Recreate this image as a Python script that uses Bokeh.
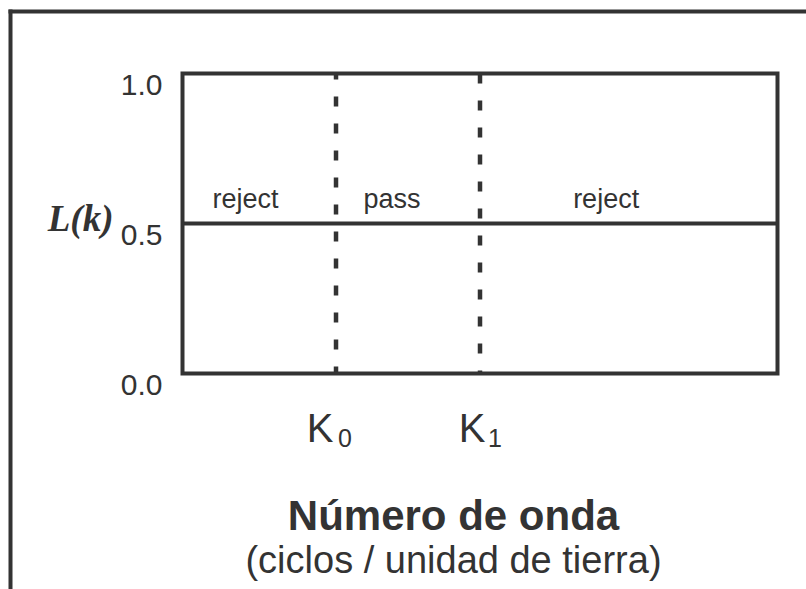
from bokeh.plotting import figure
from bokeh.models import Range1d
from bokeh.core.properties import value
from bokeh.embed import file_html
from bokeh.resources import INLINE

# --- data -------------------------------------------------------------
K_DOMAIN = [0.0, 10.0]            # wavenumber span of the response box
K_CUTOFFS = [2.58, 5.0]           # K0, K1
K_NAMES = ["K", "K"]
K_SUBS = ["0", "1"]
L_RANGE = [0.0, 1.0]
L_LEVEL = 0.5                     # response level L(k)
Y_TICKS = [0.0, 0.5, 1.0]
Y_TICK_LABELS = ["0.0", "0.5", "1.0"]
BAND_NAMES = ["reject", "pass", "reject"]
BAND_LABEL_K = [1.06, 3.52, 7.12]

# --- layout (pixels) --------------------------------------------------
W, H = 806, 589
BOX_L, BOX_T, BOX_R, BOX_B = 182, 73, 777, 373
INK = "#333333"
SANS = "Liberation Sans"

sx = (BOX_R - BOX_L) / (K_DOMAIN[1] - K_DOMAIN[0])
sy = (BOX_B - BOX_T) / (L_RANGE[1] - L_RANGE[0])


def px_x(px):
    return K_DOMAIN[0] + (px - BOX_L) / sx


def px_y(py):
    return L_RANGE[0] + (BOX_B - py) / sy


p = figure(
    width=W, height=H,
    x_range=Range1d(px_x(0), px_x(W)),
    y_range=Range1d(px_y(H), px_y(0)),
    output_backend="svg", toolbar_location=None,
    min_border=0, outline_line_color=None,
    background_fill_color="white", border_fill_color="white",
)
p.axis.visible = False
p.grid.visible = False

# outer frame (top and left edges)
p.segment(x0=[px_x(8), px_x(10)], y0=[px_y(11), px_y(9)],
          x1=[px_x(W + 5), px_x(10)], y1=[px_y(11), px_y(H + 5)],
          line_color=INK, line_width=4)

# cut-off wavenumbers
for k, off in zip(K_CUTOFFS, [4, 0]):
    p.segment(x0=[k], y0=[L_RANGE[1]], x1=[k], y1=[L_RANGE[0]],
              line_color=INK, line_width=4.5, line_dash="10 17",
              line_dash_offset=off, line_cap="butt")

# response level
p.line(x=K_DOMAIN, y=[L_LEVEL, L_LEVEL], line_color=INK, line_width=4)

# response box
p.quad(left=[K_DOMAIN[0]], right=[K_DOMAIN[1]],
       bottom=[L_RANGE[0]], top=[L_RANGE[1]],
       fill_color=None, line_color=INK, line_width=4, line_join="miter")

# y tick labels
p.text(x=[K_DOMAIN[0]] * len(Y_TICKS), y=Y_TICKS, text=Y_TICK_LABELS,
       x_offset=-20, y_offset=11, text_align="right", text_baseline="middle",
       text_font=value(SANS), text_font_size="30px", text_color=INK)

# axis name
p.text(x=[K_DOMAIN[0]], y=[L_LEVEL], text=["L(k)"],
       x_offset=-69, y_offset=-5, text_align="right", text_baseline="middle",
       text_font=value("Liberation Serif"), text_font_style="bold italic",
       text_font_size="37px", text_color=INK)

# band names
p.text(x=BAND_LABEL_K, y=[L_LEVEL] * len(BAND_NAMES), text=BAND_NAMES,
       y_offset=-25, text_align="center", text_baseline="alphabetic",
       text_font=value(SANS), text_font_size="27px", text_color=INK)

# K0 / K1 labels
p.text(x=K_CUTOFFS, y=[L_RANGE[0]] * 2, text=K_NAMES,
       x_offset=[-16, -8], y_offset=54, text_align="center",
       text_baseline="alphabetic",
       text_font=value(SANS), text_font_size="40px", text_color=INK)
p.text(x=K_CUTOFFS, y=[L_RANGE[0]] * 2, text=K_SUBS,
       x_offset=[2, 8], y_offset=64, text_align="left",
       text_baseline="alphabetic",
       text_font=value(SANS), text_font_size="25px", text_color=INK)

# x axis title
xc = px_x(453)
p.text(x=[xc], y=[L_RANGE[0]], text=["Número de onda"],
       y_offset=142, text_align="center", text_baseline="alphabetic",
       text_font=value(SANS), text_font_style="bold",
       text_font_size="42px", text_color=INK)
p.text(x=[xc], y=[L_RANGE[0]], text=["(ciclos / unidad de tierra)"],
       y_offset=186, text_align="center", text_baseline="alphabetic",
       text_font=value(SANS), text_font_size="38px", text_color=INK)

open("out.html", "w").write(file_html(p, INLINE))
